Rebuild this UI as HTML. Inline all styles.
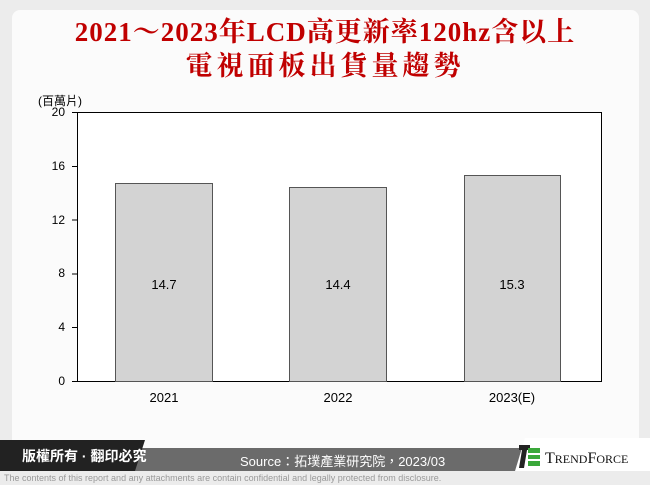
<!DOCTYPE html>
<html><head><meta charset="utf-8"><style>
body{margin:0;width:650px;height:485px;background:#ececec;position:relative;overflow:hidden;font-family:"Liberation Sans","Noto Sans CJK TC",sans-serif}
.card{position:absolute;left:12px;top:10px;width:627px;height:450px;background:#fbfbfb;border-radius:8px}
.t{position:absolute;left:0;width:650px;text-align:center;color:#c00000;font-family:"Liberation Serif","Noto Serif CJK SC",serif;font-weight:bold;font-size:27px}
.yl{position:absolute;font-size:12px;color:#000;text-align:right;width:20px;left:45px}
.xl{position:absolute;font-size:13px;color:#000;top:390px;width:120px;text-align:center}
.bar{position:absolute;background:#d3d3d3;border:1px solid #555;box-sizing:border-box}
.v{position:absolute;font-size:13px;width:100px;text-align:center;top:277px}
</style></head><body>
<div class="card"></div>
<div class="t" style="top:10px;letter-spacing:1px">2021～2023年LCD高更新率120hz含以上</div>
<div class="t" style="top:44px;letter-spacing:4px">電視面板出貨量趨勢</div>
<div style="position:absolute;left:38px;top:92px;font-size:12px">(百萬片)</div>
<div style="position:absolute;left:77px;top:112px;width:525px;height:270px;border:1px solid #000;box-sizing:border-box;background:#fff"></div>
<div class="yl" style="top:105px">20</div>
<div class="yl" style="top:159px">16</div>
<div class="yl" style="top:213px">12</div>
<div class="yl" style="top:266px">8</div>
<div class="yl" style="top:320px">4</div>
<div class="yl" style="top:374px">0</div>
<div style="position:absolute;left:72px;top:112px;width:5px;height:270px;background:repeating-linear-gradient(#000 0 1px,transparent 1px 53.8px)"></div>
<div class="bar" style="left:115px;top:183px;width:98px;height:199px"></div>
<div class="bar" style="left:289px;top:187px;width:98px;height:195px"></div>
<div class="bar" style="left:464px;top:175px;width:97px;height:207px"></div>
<div class="v" style="left:114px">14.7</div>
<div class="v" style="left:288px">14.4</div>
<div class="v" style="left:462px">15.3</div>
<div class="xl" style="left:104px">2021</div>
<div class="xl" style="left:278px">2022</div>
<div class="xl" style="left:452px">2023(E)</div>
<svg style="position:absolute;left:0;top:438px" width="650" height="35">
<polygon points="0,10 650,10 650,33 0,33" fill="#6b6b6b"/>
<polygon points="0,2 145,2 135,33 0,33" fill="#222"/>
<polygon points="515,33 525,0 650,0 650,33" fill="#fff"/>
<polygon points="519,7 530,7 530,12 519,12" fill="#222"/><polygon points="522,12 527,12 524,30 519,30" fill="#222"/>
<polygon points="528,10 540,10 540,15 528,15" fill="#3aa83a"/><polygon points="528,17 540,17 540,21 528,21" fill="#3aa83a"/><polygon points="528,23 540,23 540,28 528,28" fill="#3aa83a"/>
</svg>
<div style="position:absolute;left:22px;top:446px;color:#fff;font-size:14px;font-weight:bold">版權所有 · 翻印必究</div>
<div style="position:absolute;left:240px;top:451px;color:#fff;font-size:13px">Source：拓墣產業研究院，2023/03</div>
<div style="position:absolute;left:545px;top:450px;color:#111;font-size:16px;font-family:'Liberation Serif',serif">T<span style="font-size:12px">REND</span>F<span style="font-size:12px">ORCE</span></div>
<div style="position:absolute;left:4px;top:473px;color:#999;font-size:9px">The contents of this report and any attachments are contain confidential and legally protected from disclosure.</div>
</body></html>
